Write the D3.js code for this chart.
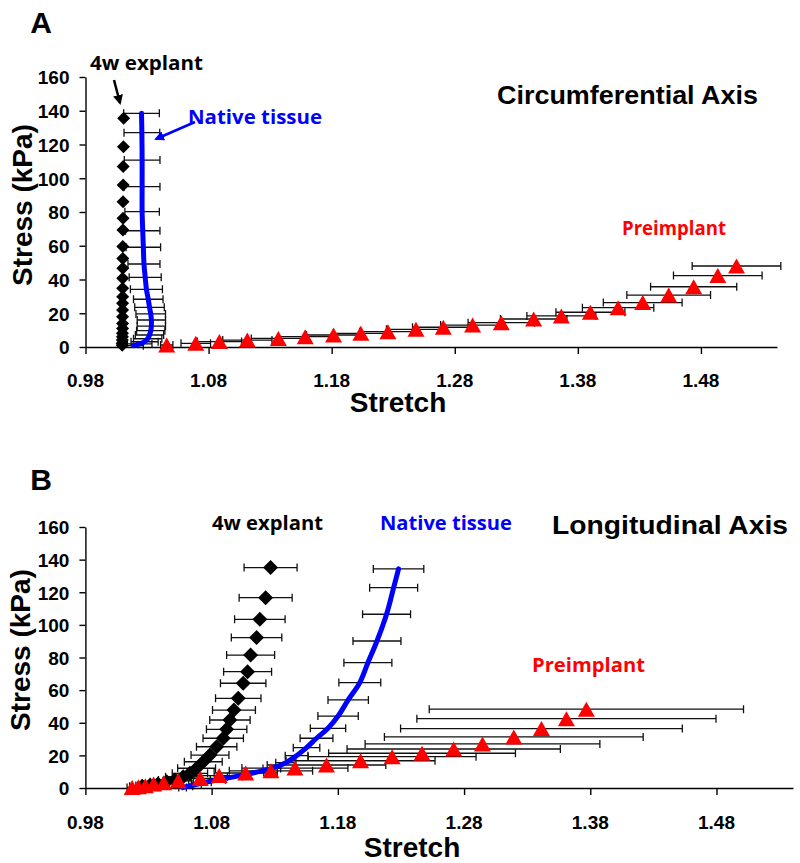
<!DOCTYPE html>
<html>
<head>
<meta charset="utf-8">
<script src="https://cdn.jsdelivr.net/npm/d3@7"></script>
<style>
  body { margin: 0; background: #fff; }
  svg text { font-family: "Liberation Sans", Arial, sans-serif; font-weight: bold; }
</style>
</head>
<body>
<svg id="chart" width="800" height="863"></svg>
<script>
// ---- shared ticks
const stressTicks = [0, 20, 40, 60, 80, 100, 120, 140, 160];
const stretchTicks = [0.98, 1.08, 1.18, 1.28, 1.38, 1.48];

// ---- panel A : circumferential axis
const explantA_stretch = [1.0098, 1.0098, 1.0099, 1.01, 1.01, 1.0101, 1.0101, 1.0101, 1.0101, 1.0101, 1.0102, 1.0102, 1.0102, 1.0103, 1.0103, 1.0103, 1.0104, 1.0105, 1.0105, 1.0106, 1.0106, 1.0108, 1.011];
const explantA_stress  = [1.0, 2.2, 4.1, 6.1, 8.1, 11, 14, 18, 21.9, 25.9, 29.8, 34.8, 40.7, 46.6, 52.5, 59.5, 69.3, 76.3, 86.1, 96, 106.9, 118.7, 135.5];

const nativeA_stretch = [1.019, 1.024, 1.028, 1.0305, 1.032, 1.033, 1.0335, 1.0335, 1.033, 1.032, 1.031, 1.0295, 1.0285, 1.0275, 1.027, 1.0265, 1.026, 1.026, 1.026, 1.0258, 1.0255];
const nativeA_stress  = [0.8, 1.8, 3.1, 4.9, 7.1, 9.7, 12.4, 16.0, 19.6, 23.5, 28.3, 34.2, 41.3, 49.2, 59.1, 68.9, 80.2, 95.0, 110.8, 127.0, 138.5];
const nativeA_err     = [0.008, 0.010, 0.011, 0.0115, 0.0115, 0.0115, 0.0115, 0.0115, 0.012, 0.012, 0.012, 0.013, 0.013, 0.013, 0.014, 0.014, 0.014, 0.0145, 0.0145, 0.0145, 0.0145];

const preA_stretch = [1.046, 1.0696, 1.0888, 1.1115, 1.1367, 1.1585, 1.1815, 1.2037, 1.2257, 1.2485, 1.2707, 1.2945, 1.3178, 1.3441, 1.3666, 1.3902, 1.4127, 1.4327, 1.4538, 1.4741, 1.4937, 1.5089];
const preA_stress  = [1.2, 2.2, 3.2, 4.1, 5.1, 6.1, 7.1, 8.1, 9.1, 10.5, 11.7, 13.0, 14.4, 16.6, 18.4, 20.6, 23.3, 26.3, 30.8, 35.7, 42.3, 48.0];
const preA_err     = [0.005, 0.012, 0.018, 0.02, 0.022, 0.022, 0.022, 0.022, 0.023, 0.024, 0.025, 0.026, 0.027, 0.027, 0.028, 0.028, 0.029, 0.032, 0.034, 0.035, 0.036, 0.036];

// ---- panel B : longitudinal axis
const explantB_stretch = [1.025, 1.031, 1.0375, 1.0444, 1.0509, 1.0575, 1.0628, 1.0681, 1.0734, 1.0787, 1.084, 1.0892, 1.0919, 1.0945, 1.0977, 1.1011, 1.105, 1.1085, 1.1109, 1.1156, 1.1182, 1.1228, 1.1267];
const explantB_stress  = [1.0, 1.5, 2.5, 3.9, 4.9, 6.9, 9.0, 12.1, 16.1, 20.2, 25.3, 30.5, 36.0, 41.7, 47.8, 55.0, 64.2, 71.3, 81.5, 92.2, 103.4, 116.7, 135.1];
const explantB_err     = [0.01, 0.011, 0.012, 0.013, 0.013, 0.014, 0.014, 0.015, 0.015, 0.015, 0.016, 0.016, 0.016, 0.016, 0.017, 0.018, 0.018, 0.019, 0.019, 0.02, 0.02, 0.021, 0.021];

const nativeB_stretch = [1.057, 1.061, 1.0668, 1.0747, 1.085, 1.0985, 1.1143, 1.1277, 1.1388, 1.1473, 1.1552, 1.1631, 1.1722, 1.1802, 1.1882, 1.1974, 1.2038, 1.211, 1.2186, 1.2242, 1.2281];
const nativeB_stress  = [0.3, 1.0, 2.0, 3.5, 5.0, 7.0, 9.5, 12.0, 15.5, 19.8, 24.7, 30.5, 36.6, 44.1, 54.0, 64.6, 76.8, 90.1, 106.5, 122.8, 134.3];
const nativeB_err     = [0.003, 0.004, 0.005, 0.005, 0.006, 0.006, 0.007, 0.007, 0.008, 0.009, 0.0105, 0.013, 0.014, 0.016, 0.016, 0.0166, 0.019, 0.019, 0.019, 0.019, 0.02];

const preB_stretch = [1.017, 1.022, 1.0275, 1.034, 1.042, 1.0535, 1.071, 1.086, 1.107, 1.127, 1.146, 1.171, 1.198, 1.223, 1.2467, 1.2718, 1.2946, 1.3194, 1.3413, 1.3611, 1.3769];
const preB_stress  = [0.3, 0.8, 1.4, 2.4, 3.2, 4.4, 5.9, 7.6, 9.2, 10.5, 12.2, 14.1, 16.7, 19.2, 21.3, 23.9, 27.0, 31.3, 36.4, 42.5, 48.3];
const preB_err     = [0.004, 0.005, 0.006, 0.008, 0.01, 0.012, 0.015, 0.02, 0.025, 0.033, 0.042, 0.047, 0.059, 0.0665, 0.074, 0.0845, 0.093, 0.1025, 0.1116, 0.1185, 0.1245];

const zip = (xs, ys, es) => xs.map((x, i) => ({ x: x, y: ys[i], e: es ? es[i] : 0 }));

const svg = d3.select("#chart");

const panels = [
  {
    letter: "A", letterXY: [41, 33],
    xRange: [85.5, 777], xMax: 1.5418, yRange: [347, 77],
    tickLabelY: 387, stretchXY: [398, 412], stressLabel: [22, 205],
    explant: zip(explantA_stretch, explantA_stress), explantErr: false, diamond: 6.5,
    native: zip(nativeA_stretch, nativeA_stress, nativeA_err),
    pre: zip(preA_stretch, preA_stress, preA_err),
    texts: [
      { t: "4w explant", x: 90, y: 70, size: 19, len: 113, fill: "#000", font: "'Open Sans'" },
      { t: "Native tissue", x: 188, y: 124, size: 20, len: 134, fill: "#0000ff", font: "'Open Sans'" },
      { t: "Circumferential Axis", x: 497, y: 104, size: 25, len: 261, fill: "#000" },
      { t: "Preimplant", x: 622, y: 235, size: 20, len: 104, fill: "#ff0000", font: "'Open Sans'" }
    ],
    arrows: [
      { from: [114, 80], to: [120, 103], color: "#000" },
      { from: [195, 122], to: [156, 139], color: "#0000ff" }
    ]
  },
  {
    letter: "B", letterXY: [41, 490],
    xRange: [85.4, 793], xMax: 1.5406, yRange: [788, 527],
    tickLabelY: 829, stretchXY: [412, 857], stressLabel: [20, 650],
    explant: zip(explantB_stretch, explantB_stress, explantB_err), explantErr: true, diamond: 7.5,
    native: zip(nativeB_stretch, nativeB_stress, nativeB_err),
    pre: zip(preB_stretch, preB_stress, preB_err),
    texts: [
      { t: "4w explant", x: 212, y: 530, size: 19, len: 111, fill: "#000", font: "'Open Sans'" },
      { t: "Native tissue", x: 380, y: 530, size: 20, len: 132, fill: "#0000ff", font: "'Open Sans'" },
      { t: "Longitudinal Axis", x: 552, y: 534, size: 26, len: 236, fill: "#000" },
      { t: "Preimplant", x: 532, y: 672, size: 20, len: 113, fill: "#ff0000", font: "'Open Sans'" }
    ],
    arrows: []
  }
];

// arrow marker defs
const defs = svg.append("defs");
["#000", "#0000ff"].forEach((c, i) => {
  defs.append("marker")
    .attr("id", "arr" + i)
    .attr("viewBox", "0 0 10 10")
    .attr("refX", 8).attr("refY", 5)
    .attr("markerWidth", 4).attr("markerHeight", 4)
    .attr("orient", "auto")
    .append("path").attr("d", "M0,0 L10,5 L0,10 Z").attr("fill", c);
});

panels.forEach(drawPanel);

function drawPanel(p) {
  const x = d3.scaleLinear().domain([0.98, p.xMax]).range(p.xRange);
  const y = d3.scaleLinear().domain([0, 160]).range(p.yRange);
  const g = svg.append("g");

  // axes
  const xAxis = g.append("g")
    .attr("transform", `translate(0,${p.yRange[0]})`)
    .call(d3.axisBottom(x).tickValues(stretchTicks).tickSize(7).tickSizeOuter(0).tickFormat(d3.format(".2f")));
  xAxis.selectAll("text").remove();
  const yAxis = g.append("g")
    .attr("transform", `translate(${p.xRange[0]},0)`)
    .call(d3.axisLeft(y).tickValues(stressTicks).tickSize(6).tickSizeOuter(0).tickPadding(10));
  yAxis.selectAll("text").attr("font-size", 19).attr("font-weight", "bold").attr("fill", "#000").attr("dy", "0.36em");
  [xAxis, yAxis].forEach(a => {
    a.select(".domain").attr("stroke", "#000").attr("stroke-width", 1.4);
    a.selectAll(".tick line").attr("stroke", "#000").attr("stroke-width", 1.4);
  });
  g.selectAll(".xtick")
    .data(stretchTicks)
    .enter().append("text")
    .attr("x", d => x(d)).attr("y", p.tickLabelY)
    .attr("text-anchor", "middle").attr("font-size", 19)
    .text(d => d3.format(".2f")(d));

  // axis titles
  g.append("text")
    .attr("x", p.stretchXY[0]).attr("y", p.stretchXY[1])
    .attr("text-anchor", "middle").attr("font-size", 28)
    .text("Stretch");
  g.append("text")
    .attr("transform", `translate(${p.stressLabel[0] + 10},${p.stressLabel[1]}) rotate(-90)`)
    .attr("text-anchor", "middle").attr("font-size", 28)
    .text("Stress (kPa)");
  g.append("text")
    .attr("x", p.letterXY[0]).attr("y", p.letterXY[1])
    .attr("text-anchor", "middle").attr("font-size", 30)
    .text(p.letter);

  // error bars
  const errPath = d => {
    const x0 = x(d.x - d.e), x1 = x(d.x + d.e), yy = y(d.y);
    return `M${x0},${yy}H${x1}M${x0},${yy - 4}V${yy + 4}M${x1},${yy - 4}V${yy + 4}`;
  };
  const errSets = [p.native, p.pre].concat(p.explantErr ? [p.explant] : []);
  errSets.forEach(set => {
    g.append("g").selectAll("path")
      .data(set).enter().append("path")
      .attr("d", errPath)
      .attr("fill", "none").attr("stroke", "#111").attr("stroke-width", 1.3);
  });

  // native tissue line
  g.append("path")
    .datum(p.native)
    .attr("d", d3.line().x(d => x(d.x)).y(d => y(d.y)).curve(d3.curveCatmullRom.alpha(0.5)))
    .attr("fill", "none").attr("stroke", "#0000ff").attr("stroke-width", 5)
    .attr("stroke-linecap", "round").attr("stroke-linejoin", "round");

  // explant diamonds
  const h = p.diamond;
  g.append("g").selectAll("path")
    .data(p.explant).enter().append("path")
    .attr("transform", d => `translate(${x(d.x)},${y(d.y)})`)
    .attr("d", `M0,${-h}L${h},0L0,${h}L${-h},0Z`)
    .attr("fill", "#000");

  // preimplant triangles
  g.append("g").selectAll("path")
    .data(p.pre).enter().append("path")
    .attr("transform", d => `translate(${x(d.x)},${y(d.y)})`)
    .attr("d", "M0,-7.5L8.5,7.5L-8.5,7.5Z")
    .attr("fill", "#ff0000");

  // annotations
  p.texts.forEach(t => {
    const el = g.append("text")
      .attr("x", t.x).attr("y", t.y)
      .attr("font-size", t.size).attr("fill", t.fill)
      .attr("textLength", t.len).attr("lengthAdjust", "spacingAndGlyphs")
      .text(t.t);
    if (t.font) el.style("font-family", t.font);
  });
  p.arrows.forEach(a => {
    g.append("line")
      .attr("x1", a.from[0]).attr("y1", a.from[1])
      .attr("x2", a.to[0]).attr("y2", a.to[1])
      .attr("stroke", a.color).attr("stroke-width", 2.5)
      .attr("marker-end", `url(#arr${a.color === "#000" ? 0 : 1})`);
  });
}
</script>
</body>
</html>
